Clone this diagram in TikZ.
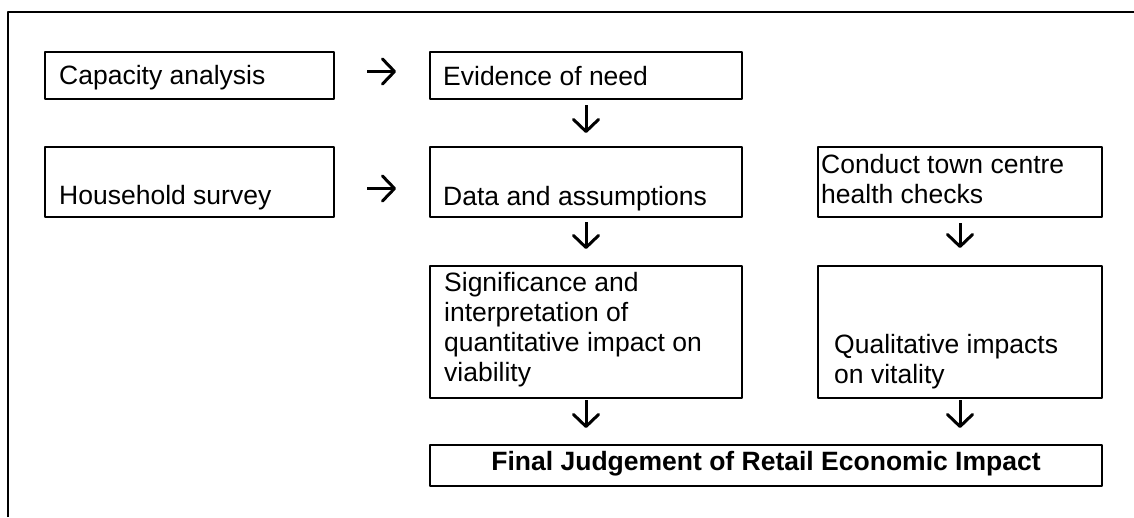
\documentclass[tikz,border=0pt]{standalone}
\usepackage{fontspec}
\setmainfont{Liberation Sans}
\usetikzlibrary{arrows.meta}
\begin{document}
\begin{tikzpicture}[x=1pt, y=-1pt, line join=round, >={Straight Barb[length=12pt,width=25pt,round]},
	box/.style={draw, line width=2pt, inner sep=0pt, outer sep=0pt},
	txt/.style={inner sep=0pt, anchor=base west, align=left, font=\fontsize{26.5}{30}\selectfont},
	arr/.style={->, line width=3pt}]
	\useasboundingbox (0,0) rectangle (1134,517);
	\draw[line width=2pt] (8,517) -- (8,12) -- (1134,12);
	% boxes
	\node[box, minimum width=289, minimum height=47] (cap) at (189.5,75.5) {};
	\node[box, minimum width=289, minimum height=70] (hh) at (189.5,182) {};
	\node[box, minimum width=312, minimum height=47] (need) at (586,75.5) {};
	\node[box, minimum width=312, minimum height=70] (data) at (586,182) {};
	\node[box, minimum width=284, minimum height=70] (chk) at (960,182) {};
	\node[box, minimum width=312, minimum height=132] (sig) at (586,332) {};
	\node[box, minimum width=284, minimum height=132] (qual) at (960,332) {};
	\node[box, minimum width=672, minimum height=41] (fin) at (766,465.5) {};
	% texts (multi-line: placed by the last baseline)
	\node[txt] (capT) at (59,84) {Capacity analysis};
	\node[txt] (hhT) at (59,204.5) {Household survey};
	\node[txt] (needT) at (443,85) {Evidence of need};
	\node[txt] (dataT) at (443,205) {Data and assumptions};
	\node[txt] (chkT) at (821,203) {Conduct town centre\\health checks};
	\node[txt] (sigT) at (444,381) {Significance and\\interpretation of\\quantitative impact on\\viability};
	\node[txt] (qualT) at (834,383) {Qualitative impacts\\on vitality};
	\node[txt, anchor=base, font=\fontsize{26.5}{30}\selectfont\bfseries] (finT) at (766,470) {Final Judgement of Retail Economic Impact};
	% arrows
	\draw[arr, shorten <=33pt, shorten >=34pt] ([yshift=4pt]cap.east) -- ([yshift=4pt]need.west);
	\draw[arr, shorten <=33pt, shorten >=34pt] ([yshift=-6.5pt]hh.east) -- ([yshift=-6.5pt]data.west);
	\draw[arr, shorten <=6pt, shorten >=14pt] (need) -- (data);
	\draw[arr, shorten <=5pt, shorten >=17pt] (data) -- (sig);
	\draw[arr, shorten <=6pt, shorten >=18pt] (chk) -- (qual);
	\draw[arr, shorten <=2pt, shorten >=17pt] (sig) -- (sig |- fin.north);
	\draw[arr, shorten <=2pt, shorten >=17pt] (qual) -- (qual |- fin.north);
\end{tikzpicture}
\end{document}
